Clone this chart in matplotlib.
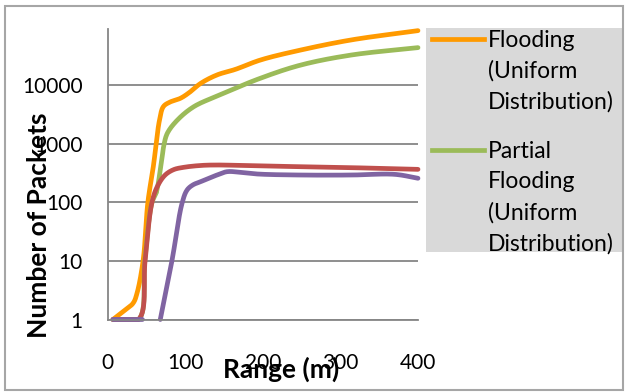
import matplotlib
matplotlib.use("Agg")
import matplotlib.pyplot as plt
import numpy as np
from matplotlib.patches import Rectangle
from matplotlib.lines import Line2D

plt.rcParams['font.family'] = ['Lato', 'DejaVu Sans']

# ---- data ----
flood_x = [7, 20, 33, 38, 46, 52, 59, 67, 72, 80, 94, 105, 120, 141, 165, 197, 249, 314, 400]
flood_y = [1, 1.36, 1.9, 2.8, 10.4, 100, 405, 2530, 4300, 5100, 5960, 7400, 10700, 14900,
           18600, 26800, 39700, 59000, 85000]

partial_x = [7, 40, 48, 57, 63, 68, 70, 72.3, 77, 90, 111, 141, 197, 249, 314, 400]
partial_y = [1, 1, 10, 96, 150, 355, 527, 890, 1500, 2530, 4270, 6500, 13100, 22000,
             32600, 43600]

red_x = [7, 40, 48.5, 57, 64, 74, 85, 98, 120, 141, 197, 249, 314, 400]
red_y = [1, 1, 10.4, 96, 184, 290, 360, 395, 425, 433, 417, 405, 390, 365]

# the gap marks points that cannot be shown on the log axis
purple_x = [7, 45, 56, 68, 83, 96, 102.5, 110, 120, 141, 154, 171, 193, 249, 314, 370, 400]
purple_y = [1, 1, np.nan, 1, 10, 96, 162, 198, 225, 292, 333, 325, 304, 292, 292, 300, 257]

x_ticks = [0, 100, 200, 300, 400]
y_ticks = [1, 10, 100, 1000, 10000]

legend_labels = ["Flooding\n(Uniform\nDistribution)",
                 "Partial\nFlooding\n(Uniform\nDistribution)"]

ORANGE = "#FF9A00"
GREEN = "#9BBB59"
RED = "#C0504D"
PURPLE = "#8064A2"
GRID = "#868686"

W, H = 626, 392
fig = plt.figure(figsize=(W / 100, H / 100), dpi=100)


def fx(px):
    return px / W


def fy(py):
    return 1 - py / H


def smooth(xs, ys, n=16):
    """Centripetal Catmull-Rom through the points, in (x, log10 y) space,
    like a spreadsheet's smoothed line. NaN values split the line."""
    xs = np.asarray(xs, float)
    ys = np.asarray(ys, float)
    out_x, out_y = [], []
    ok = ~np.isnan(ys)
    idx = np.where(ok)[0]
    runs = np.split(idx, np.where(np.diff(idx) > 1)[0] + 1)
    for run in runs:
        px = xs[run] * 0.7725
        py = np.log10(ys[run]) * 58.6
        if len(run) < 3:
            out_x += list(xs[run]); out_y += list(ys[run])
            out_x.append(np.nan); out_y.append(np.nan)
            continue
        P = np.column_stack([px, py])
        P = np.vstack([2 * P[0] - P[1], P, 2 * P[-1] - P[-2]])
        seg = []
        for i in range(1, len(P) - 2):
            p0, p1, p2, p3 = P[i - 1], P[i], P[i + 1], P[i + 2]
            t0 = 0.0
            t1 = t0 + np.linalg.norm(p1 - p0) ** 0.5 + 1e-9
            t2 = t1 + np.linalg.norm(p2 - p1) ** 0.5 + 1e-9
            t3 = t2 + np.linalg.norm(p3 - p2) ** 0.5 + 1e-9
            t = np.linspace(t1, t2, n)[:, None]
            a1 = (t1 - t) / (t1 - t0) * p0 + (t - t0) / (t1 - t0) * p1
            a2 = (t2 - t) / (t2 - t1) * p1 + (t - t1) / (t2 - t1) * p2
            a3 = (t3 - t) / (t3 - t2) * p2 + (t - t2) / (t3 - t2) * p3
            b1 = (t2 - t) / (t2 - t0) * a1 + (t - t0) / (t2 - t0) * a2
            b2 = (t3 - t) / (t3 - t1) * a2 + (t - t1) / (t3 - t1) * a3
            c = (t2 - t) / (t2 - t1) * b1 + (t - t1) / (t2 - t1) * b2
            seg.append(c)
        seg = np.vstack(seg)
        out_x += list(seg[:, 0] / 0.7725)
        # the curve never dips below the axis floor of 1
        out_y += list(np.maximum(10 ** (seg[:, 1] / 58.6), 1.0))
        out_x.append(np.nan); out_y.append(np.nan)
    return np.array(out_x), np.array(out_y)


# plot area
left, right, top, bottom = 107.5, 418.0, 29.0, 319.5
ax = fig.add_axes([fx(left), fy(bottom), fx(right - left), (bottom - top) / H])
ax.set_yscale('log')
ax.set_xlim(0, 400)
ax.set_ylim(1, 10 ** ((bottom - top) / 58.6))

lw = 3.4
for xs, ys, c in [(flood_x, flood_y, ORANGE), (partial_x, partial_y, GREEN),
                  (red_x, red_y, RED), (purple_x, purple_y, PURPLE)]:
    sx, sy = smooth(xs, ys)
    ax.plot(sx, sy, color=c, lw=lw, solid_joinstyle='round', solid_capstyle='round',
            clip_on=False)

ax.set_xticks(x_ticks)
ax.set_xticklabels([str(t) for t in x_ticks], fontsize=15)
ax.set_yticks(y_ticks)
ax.set_yticklabels([str(t) for t in y_ticks], fontsize=15)
ax.yaxis.set_minor_locator(matplotlib.ticker.NullLocator())
ax.tick_params(axis='both', length=0)
ax.tick_params(axis='y', pad=18)
ax.tick_params(axis='x', pad=24)
ax.grid(axis='y', color=GRID, lw=1.3)
ax.set_axisbelow(True)
for s in ['top', 'right']:
    ax.spines[s].set_visible(False)
for s in ['left', 'bottom']:
    ax.spines[s].set_color(GRID)
    ax.spines[s].set_linewidth(1.3)

# axis titles
fig.text(fx(39), fy(225), "Number of Packets", rotation=90, fontsize=19,
         fontweight='bold', ha='center', va='center')
fig.text(fx(222.7), fy(377.3), "Range (m)", fontsize=19, fontweight='bold',
         ha='left', va='baseline')

# legend panel
fig.add_artist(Rectangle((fx(426), fy(251.7)), fx(621.7 - 426), (251.7 - 28.3) / H,
                         transform=fig.transFigure, facecolor="#D9D9D9",
                         edgecolor='none', zorder=1))
entries = [(ORANGE, 39, 46.7, legend_labels[0]), (GREEN, 150, 157.5, legend_labels[1])]
for color, ly, base, label in entries:
    fig.add_artist(Line2D([fx(431.7), fx(484.3)], [fy(ly), fy(ly)], color=color, lw=lw,
                          transform=fig.transFigure, zorder=2))
    for i, line in enumerate(label.split("\n")):
        fig.text(fx(488.3), fy(base + i * 31), line, fontsize=16.5, ha='left',
                 va='baseline', zorder=3)

# outer frame
fig.add_artist(Rectangle((fx(4.5), fy(389.5)), fx(623 - 4.5), (389.5 - 6) / H,
                         transform=fig.transFigure, facecolor='none',
                         edgecolor="#A6A6A6", lw=1.5, zorder=4))

fig.savefig("out.png", dpi=100)
